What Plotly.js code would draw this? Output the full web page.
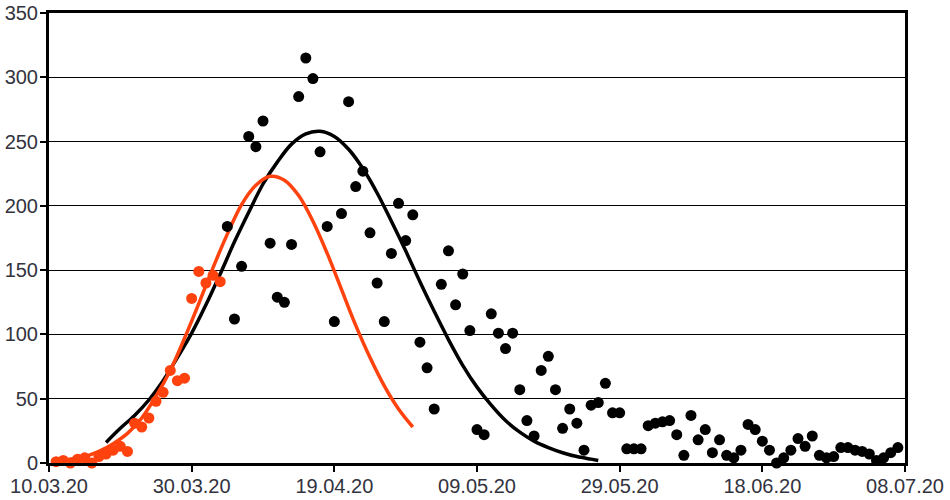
<!DOCTYPE html>
<html>
<head>
<meta charset="utf-8">
<script src="https://cdn.plot.ly/plotly-3.0.1.min.js"></script>
<style>html,body{margin:0;padding:0;background:#fff;}#chart{width:950px;height:500px;}</style>
</head>
<body>
<div id="chart"></div>
<script>
// Day index counted from 10.03.20
const blackDays = [25,26,27,28,29,30,31,32,33,34,35,36,37,38,39,40,41,42,43,44,45,46,47,48,49,50,51,52,53,54,55,56,57,58,59,60,61,62,63,64,65,66,67,68,69,70,71,72,73,74,75,76,77,78,79,80,81,82,83,84,85,86,87,88,89,90,91,92,93,94,95,96,97,98,99,100,101,102,103,104,105,106,107,108,109,110,111,112,113,114,115,116,117,118,119];
const blackValues = [184,112,153,254,246,266,171,129,125,170,285,315,299,242,184,110,194,281,215,227,179,140,110,163,202,173,193,94,74,42,139,165,123,147,103,26,22,116,101,89,101,57,33,21,72,83,57,27,42,31,10,45,47,62,39,39,11,11,11,29,31,32,33,22,6,37,18,26,8,18,6,4,10,30,26,17,10,0,4,10,19,13,21,6,4,5,12,12,10,9,7,2,4,8,12];

const orangeDays = [1,2,3,4,5,6,7,8,9,10,11,12,13,14,15,16,17,18,19,20,21,22,23,24];
const orangeValues = [1,2,0,3,4,0,5,7,10,13,9,31,28,35,48,55,72,64,66,128,149,140,146,141];

const blackFitDays = [8,10,12,14,16,18,20,22,24,26,28,30,32,34,36,38,40,42,44,46,48,50,52,54,56,58,60,62,64,66,68,70,72,74,76,77];
const blackFitValues = [16,27,37,49,64,82,101,123,147,172,195,217,234,248,256,258,254,244,229,210,188,165,141,118,96,76,59,45,33,24,17,12,8,5,3,2];

const orangeFitDays = [1,3,5,7,9,11,13,15,17,19,21,23,25,27,29,31,33,35,37,39,41,43,45,47,49,51];
const orangeFitValues = [1.5,3,5,9,15,23,35,52,72,97,124,152,178,201,216,223,220,208,188,163,135,107,82,60,42,28];

const tickDays = [0,20,40,60,80,100,120];
const tickLabels = ['10.03.20','30.03.20','19.04.20','09.05.20','29.05.20','18.06.20','08.07.20'];

const BLACK = '#000000';
const ORANGE = '#ff420e';

const traces = [
  {x: blackFitDays, y: blackFitValues, type: 'scatter', mode: 'lines',
   line: {color: BLACK, width: 3.5, shape: 'spline', smoothing: 1}, hoverinfo: 'skip', cliponaxis: false},
  {x: orangeFitDays, y: orangeFitValues, type: 'scatter', mode: 'lines',
   line: {color: ORANGE, width: 3.5, shape: 'spline', smoothing: 1}, hoverinfo: 'skip', cliponaxis: false},
  {x: blackDays, y: blackValues, type: 'scatter', mode: 'markers',
   marker: {color: BLACK, size: 11}, cliponaxis: false},
  {x: orangeDays, y: orangeValues, type: 'scatter', mode: 'markers',
   marker: {color: ORANGE, size: 11}, cliponaxis: false}
];

const layout = {
  width: 950, height: 500,
  margin: {l: 49, r: 45, t: 13, b: 37, pad: 0},
  paper_bgcolor: '#ffffff', plot_bgcolor: '#ffffff',
  showlegend: false,
  font: {family: '"Liberation Sans", Arial, sans-serif', size: 20, color: '#333340'},
  xaxis: {
    range: [0, 120], tickmode: 'array', tickvals: tickDays, ticktext: tickLabels,
    showgrid: false, zeroline: false,
    showline: true, linecolor: BLACK, linewidth: 3, mirror: true,
    ticks: 'outside', ticklen: 6, tickwidth: 2, tickcolor: BLACK,
    ticklabelstandoff: -3
  },
  yaxis: {
    range: [0, 350], dtick: 50, tick0: 0,
    showgrid: true, gridcolor: BLACK, gridwidth: 1, zeroline: false,
    showline: true, linecolor: BLACK, linewidth: 3, mirror: true,
    ticks: 'outside', ticklen: 6, tickwidth: 2, tickcolor: BLACK,
    ticklabelstandoff: -2
  }
};

Plotly.newPlot('chart', traces, layout, {displayModeBar: false, staticPlot: true});
</script>
</body>
</html>
